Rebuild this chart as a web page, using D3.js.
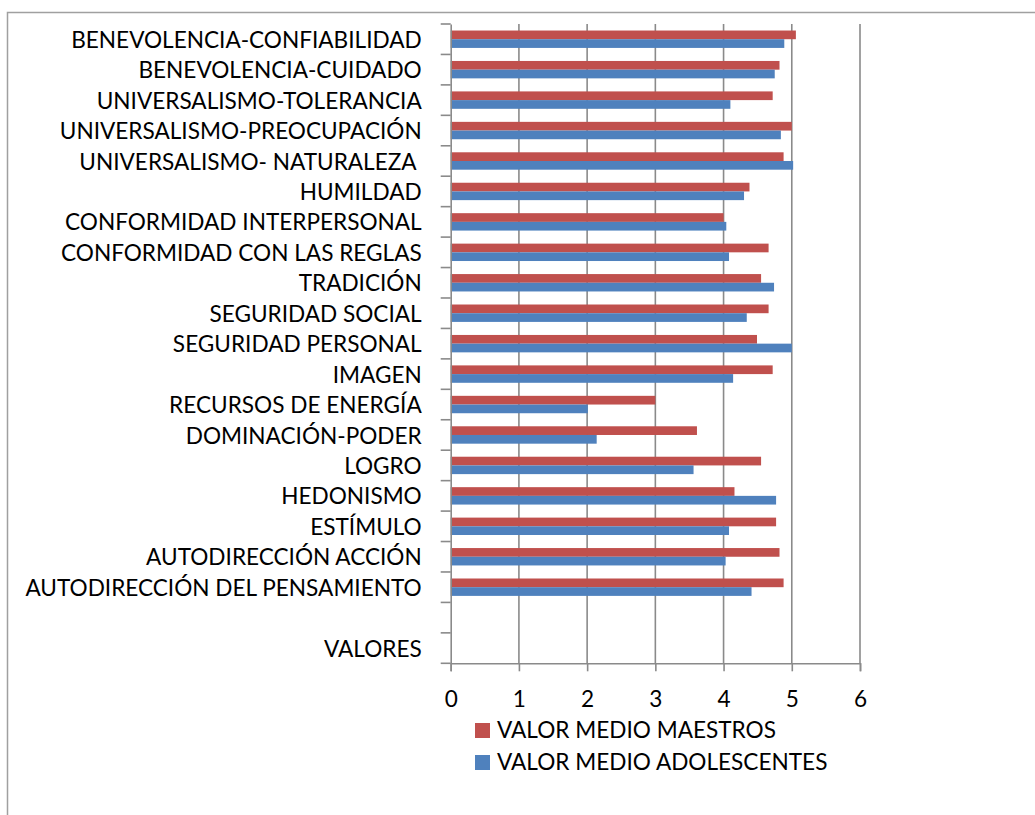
<!DOCTYPE html>
<html>
<head>
<meta charset="utf-8">
<script src="https://cdn.jsdelivr.net/npm/d3@7"></script>
<style>
  body { margin: 0; background: #fff; }
  svg text { font-family: Lato, "Open Sans", sans-serif; fill: #000; white-space: pre; }
</style>
</head>
<body>
<svg id="chart" width="1035" height="815"></svg>
<script>
// categorias (de arriba hacia abajo)
const categorias = [
  "BENEVOLENCIA-CONFIABILIDAD",
  "BENEVOLENCIA-CUIDADO",
  "UNIVERSALISMO-TOLERANCIA",
  "UNIVERSALISMO-PREOCUPACIÓN",
  "UNIVERSALISMO- NATURALEZA ",
  "HUMILDAD",
  "CONFORMIDAD INTERPERSONAL",
  "CONFORMIDAD CON LAS REGLAS",
  "TRADICIÓN",
  "SEGURIDAD SOCIAL",
  "SEGURIDAD PERSONAL",
  "IMAGEN",
  "RECURSOS DE ENERGÍA",
  "DOMINACIÓN-PODER",
  "LOGRO",
  "HEDONISMO",
  "ESTÍMULO",
  "AUTODIRECCIÓN ACCIÓN",
  "AUTODIRECCIÓN DEL PENSAMIENTO",
  "",
  "VALORES"
];
const maestros = [5.06, 4.82, 4.72, 5.0, 4.88, 4.38, 4.0, 4.66, 4.55, 4.66, 4.49, 4.72, 3.0, 3.61, 4.55, 4.16, 4.77, 4.82, 4.88, null, null];
const adolescentes = [4.89, 4.75, 4.10, 4.84, 5.02, 4.30, 4.04, 4.08, 4.74, 4.34, 5.0, 4.14, 2.01, 2.14, 3.56, 4.77, 4.08, 4.03, 4.41, null, null];
const series = ["VALOR MEDIO MAESTROS", "VALOR MEDIO ADOLESCENTES"];
const colores = ["#C0504D", "#4F81BD"];
const xTicks = [0, 1, 2, 3, 4, 5, 6];

const svg = d3.select("#chart");
const gridColor = "#8a8a8a";
const fs = 22.6;

// marco exterior
svg.append("path")
  .attr("d", "M7.5,815 V12.5 H1035")
  .attr("fill", "none")
  .attr("stroke", "#a0a0a0")
  .attr("stroke-width", 1.5);

const x = d3.scaleLinear().domain([0, 6]).range([450.7, 860]);
const y = d3.scaleBand().domain(categorias).range([24, 663.3]);
const ySub = d3.scaleBand().domain(series).range([0, y.bandwidth()])
  .paddingInner(0).paddingOuter(0.75);

// rejilla vertical
svg.append("g")
  .selectAll("line")
  .data(xTicks.slice(1))
  .join("line")
  .attr("x1", d => x(d)).attr("x2", d => x(d))
  .attr("y1", y.range()[0]).attr("y2", y.range()[1])
  .attr("stroke", gridColor)
  .attr("stroke-width", 1.6);

// barras
const filas = categorias.map((c, i) => ({ c, vals: [maestros[i], adolescentes[i]] }));
const gFila = svg.append("g")
  .selectAll("g")
  .data(filas)
  .join("g")
  .attr("transform", d => "translate(0," + y(d.c) + ")");

gFila.selectAll("rect")
  .data(d => d.vals.map((v, j) => ({ v, s: series[j], col: colores[j] })).filter(e => e.v != null))
  .join("rect")
  .attr("x", x(0))
  .attr("y", d => ySub(d.s))
  .attr("width", d => x(d.v) - x(0))
  .attr("height", ySub.bandwidth())
  .attr("fill", d => d.col);

// eje Y
const axisY = svg.append("g")
  .attr("transform", "translate(" + x(0) + ",0)")
  .call(d3.axisLeft(y).tickSize(0).tickPadding(29));
axisY.select(".domain").attr("stroke", gridColor).attr("stroke-width", 1.6);
axisY.selectAll("text").attr("font-size", fs).attr("dy", "0.38em");
// marcas entre categorias
svg.append("g")
  .selectAll("line")
  .data(d3.range(categorias.length + 1))
  .join("line")
  .attr("x1", x(0) - 10).attr("x2", x(0))
  .attr("y1", i => y.range()[0] + i * y.step())
  .attr("y2", i => y.range()[0] + i * y.step())
  .attr("stroke", gridColor)
  .attr("stroke-width", 1.6);

// eje X
const axisX = svg.append("g")
  .attr("transform", "translate(0," + y.range()[1] + ")")
  .call(d3.axisBottom(x).tickValues(xTicks).tickSize(8).tickPadding(20).tickFormat(d3.format("d")));
axisX.select(".domain").attr("stroke", gridColor).attr("stroke-width", 1.6);
axisX.selectAll(".tick line").attr("stroke", gridColor).attr("stroke-width", 1.6);
axisX.selectAll("text").attr("font-size", fs);

// leyenda
const leyenda = svg.append("g").attr("transform", "translate(475,723)");
const item = leyenda.selectAll("g")
  .data(series)
  .join("g")
  .attr("transform", (d, i) => "translate(0," + i * 32 + ")");
item.append("rect")
  .attr("width", 15).attr("height", 15)
  .attr("fill", (d, i) => colores[i]);
item.append("text")
  .attr("x", 22).attr("y", 15)
  .attr("font-size", fs)
  .text(d => d);
</script>
</body>
</html>
